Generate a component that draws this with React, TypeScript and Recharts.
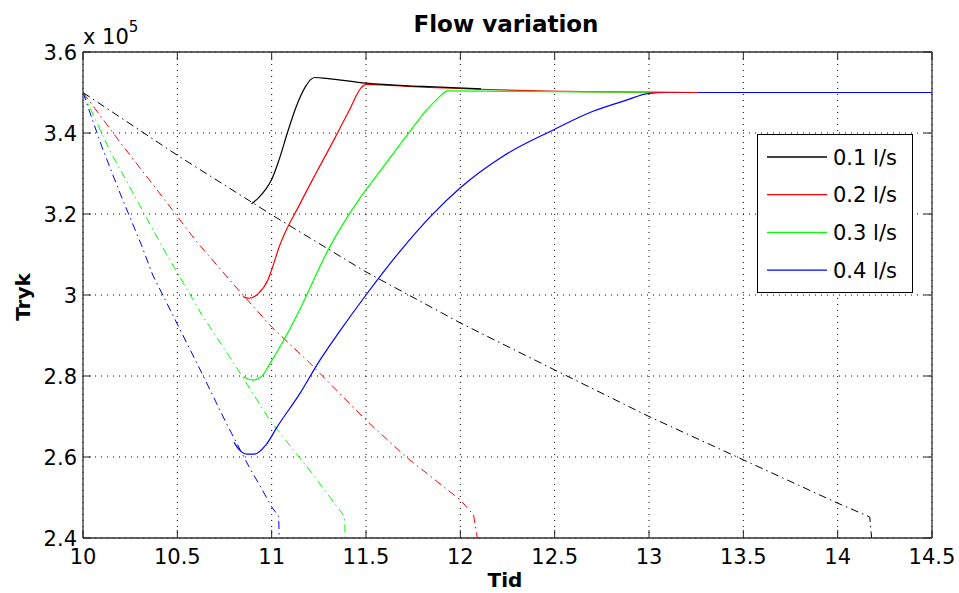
import React from 'react';
import { LineChart, Line, XAxis, YAxis, CartesianGrid } from 'recharts';

const W = 959;
const H = 593;
const FONT = '"DejaVu Sans", "Liberation Sans", sans-serif';
const TICK = 8;

const xTicks = [10, 10.5, 11, 11.5, 12, 12.5, 13, 13.5, 14, 14.5];
const yTicks = [2.4, 2.6, 2.8, 3.0, 3.2, 3.4, 3.6];

const seriesNames = ['0.1 l/s', '0.2 l/s', '0.3 l/s', '0.4 l/s'];
const seriesColors = ['#000000', '#ff0000', '#00ff00', '#0000ff'];

// Pressure decay (dash-dot) per flow, values in 1e5
const blackDashX = [10, 10.5, 11, 11.5, 12, 12.5, 13, 13.5, 14, 14.17, 14.18];
const blackDashY = [3.5, 3.345, 3.198, 3.057, 2.931, 2.815, 2.7, 2.593, 2.486, 2.452, 2.4];
const redDashX = [10, 10.2, 10.4, 10.6, 10.8, 11.0, 11.2, 11.5, 11.71, 12.0, 12.07, 12.09];
const redDashY = [3.5, 3.375, 3.255, 3.133, 3.025, 2.921, 2.833, 2.691, 2.601, 2.494, 2.457, 2.4];
const greenDashX = [10, 10.14, 10.28, 10.42, 10.63, 10.8, 10.99, 11.2, 11.386, 11.39];
const greenDashY = [3.5, 3.358, 3.239, 3.119, 2.951, 2.831, 2.691, 2.568, 2.453, 2.4];
const blueDashX = [10, 10.1, 10.2, 10.31, 10.37, 10.63, 10.76, 10.88, 10.95, 11.0, 11.037, 11.04];
const blueDashY = [3.5, 3.366, 3.247, 3.123, 3.049, 2.807, 2.683, 2.576, 2.519, 2.477, 2.453, 2.4];

// Recovery (solid) per flow
const blackSolidX = [10.893, 10.93, 10.97, 11.0, 11.04, 11.085, 11.13, 11.18, 11.21, 11.23, 11.29, 11.5, 11.8, 12.11];
const blackSolidY = [3.225, 3.24, 3.262, 3.285, 3.335, 3.403, 3.465, 3.515, 3.533, 3.537, 3.535, 3.523, 3.515, 3.509];
const redSolidX = [10.848, 10.88, 10.93, 10.98, 11.0, 11.04, 11.15, 11.24, 11.33, 11.41, 11.475, 11.5, 11.8, 12.1, 12.42, 13.0, 13.26];
const redSolidY = [2.996, 2.992, 3.004, 3.037, 3.062, 3.119, 3.225, 3.305, 3.383, 3.455, 3.512, 3.52, 3.513, 3.508, 3.504, 3.501, 3.5];
const greenSolidX = [10.85, 10.9, 10.945, 10.99, 11.06, 11.15, 11.3, 11.466, 11.554, 11.642, 11.73, 11.818, 11.88, 11.933, 12.5, 13.0];
const greenSolidY = [2.798, 2.79, 2.798, 2.83, 2.885, 2.965, 3.112, 3.238, 3.293, 3.348, 3.402, 3.455, 3.485, 3.504, 3.502, 3.501];
const blueSolidX = [10.8, 10.83, 10.87, 10.91, 10.97, 11.03, 11.15, 11.25, 11.36, 11.5, 11.68, 11.85, 12.0, 12.22, 12.49, 12.7, 12.88, 13.0, 13.1, 14.5];
const blueSolidY = [2.636, 2.617, 2.607, 2.607, 2.63, 2.675, 2.757, 2.835, 2.91, 3.0, 3.108, 3.198, 3.265, 3.341, 3.407, 3.453, 3.481, 3.498, 3.5, 3.5];

const zip = (xs: number[], ys: number[]) => xs.map((x, i) => ({ x, y: ys[i] }));

const dashSeries = [
  { data: zip(blackDashX, blackDashY), color: seriesColors[0] },
  { data: zip(redDashX, redDashY), color: seriesColors[1] },
  { data: zip(greenDashX, greenDashY), color: seriesColors[2] },
  { data: zip(blueDashX, blueDashY), color: seriesColors[3] },
];
// drawn order: blue, red, green, black
const solidSeries = [
  { data: zip(blueSolidX, blueSolidY), color: seriesColors[3], name: seriesNames[3] },
  { data: zip(redSolidX, redSolidY), color: seriesColors[1], name: seriesNames[1] },
  { data: zip(greenSolidX, greenSolidY), color: seriesColors[2], name: seriesNames[2] },
  { data: zip(blackSolidX, blackSolidY), color: seriesColors[0], name: seriesNames[0] },
];

const fmt = (v: number) => String(Math.round(v * 100) / 100);

const BottomTick = (props: any) => {
  const { x, y, payload } = props;
  return (
    <g>
      <line x1={x} y1={y} x2={x} y2={y - TICK} stroke="#222" strokeWidth={1} />
      <text x={x} y={y + 26} textAnchor="middle" fontSize={21} fontFamily={FONT} fill="#000">
        {fmt(payload.value)}
      </text>
    </g>
  );
};
const TopTick = (props: any) => {
  const { x, y } = props;
  return <line x1={x} y1={y} x2={x} y2={y + TICK} stroke="#222" strokeWidth={1} />;
};
const LeftTick = (props: any) => {
  const { x, y, payload } = props;
  return (
    <g>
      <line x1={x} y1={y} x2={x + TICK} y2={y} stroke="#222" strokeWidth={1} />
      <text x={x - 6} y={y} dy="0.36em" textAnchor="end" fontSize={21} fontFamily={FONT} fill="#000">
        {fmt(payload.value)}
      </text>
    </g>
  );
};
const RightTick = (props: any) => {
  const { x, y } = props;
  return <line x1={x} y1={y} x2={x - TICK} y2={y} stroke="#222" strokeWidth={1} />;
};

const LegendBox = () => (
  <div
    style={{
      position: 'absolute',
      left: 757,
      top: 134,
      width: 156,
      height: 159,
      boxSizing: 'border-box',
      border: '1px solid #000',
      background: '#fff',
    }}
  >
    <svg width={154} height={157} style={{ position: 'absolute', left: 0, top: 0 }}>
      {seriesNames.map((n, i) => (
        <g key={n}>
          <line x1={9} x2={69} y1={22 + i * 37.7} y2={22 + i * 37.7} stroke={seriesColors[i]} strokeWidth={1.3} />
          <text x={75} y={22 + i * 37.7} dy="0.36em" fontFamily={FONT} fontSize={21} fill="#000">
            {n}
          </text>
        </g>
      ))}
    </svg>
  </div>
);

const axisLine = { stroke: '#333', strokeWidth: 1.3 };

export default function App() {
  return (
    <div style={{ position: 'absolute', left: 0, top: 0, width: W, height: H, background: '#fff' }}>
      <LineChart width={W} height={H} margin={{ top: 0, right: 0, bottom: 0, left: 0 }}>
        <CartesianGrid stroke="#000" strokeDasharray="1 5" strokeWidth={1} />
        <XAxis
          dataKey="x"
          type="number"
          domain={[10, 14.5]}
          ticks={xTicks}
          allowDataOverflow
          height={55}
          tickSize={0}
          tickMargin={0}
          tickLine={false}
          tick={<BottomTick />}
          axisLine={axisLine}
          interval={0}
        />
        <XAxis
          xAxisId="top"
          orientation="top"
          dataKey="x"
          type="number"
          domain={[10, 14.5]}
          ticks={xTicks}
          allowDataOverflow
          height={52}
          tickSize={0}
          tickMargin={0}
          tickLine={false}
          tick={<TopTick />}
          axisLine={axisLine}
          interval={0}
        />
        <YAxis
          type="number"
          domain={[2.4, 3.6]}
          ticks={yTicks}
          allowDataOverflow
          width={83}
          tickSize={0}
          tickMargin={0}
          tickLine={false}
          tick={<LeftTick />}
          axisLine={axisLine}
          interval={0}
        />
        <YAxis
          yAxisId="right"
          orientation="right"
          type="number"
          domain={[2.4, 3.6]}
          ticks={yTicks}
          allowDataOverflow
          width={27}
          tickSize={0}
          tickMargin={0}
          tickLine={false}
          tick={<RightTick />}
          axisLine={axisLine}
          interval={0}
        />
        {dashSeries.map((s, i) => (
          <Line
            key={'d' + i}
            data={s.data}
            dataKey="y"
            type="linear"
            stroke={s.color}
            strokeWidth={1}
            strokeDasharray="8 4 1.5 4"
            dot={false}
            activeDot={false}
            legendType="none"
            isAnimationActive={false}
          />
        ))}
        {solidSeries.map((s, i) => (
          <Line
            key={'s' + i}
            name={s.name}
            data={s.data}
            dataKey="y"
            type="monotone"
            stroke={s.color}
            strokeWidth={1.2}
            dot={false}
            activeDot={false}
            isAnimationActive={false}
          />
        ))}
      </LineChart>
      <LegendBox />
      <svg
        width={W}
        height={H}
        style={{ position: 'absolute', left: 0, top: 0, pointerEvents: 'none' }}
      >
        <text x={506} y={32} textAnchor="middle" fontFamily={FONT} fontWeight="bold" fontSize={23} fill="#000">
          Flow variation
        </text>
        <text x={83} y={44} fontFamily={FONT} fontSize={21} fill="#000">
          x 10
          <tspan dy={-12} fontSize={15}>5</tspan>
        </text>
        <text x={505} y={587} textAnchor="middle" fontFamily={FONT} fontWeight="bold" fontSize={20} fill="#000">
          Tid
        </text>
        <text
          x={30}
          y={297}
          textAnchor="middle"
          fontFamily={FONT}
          fontWeight="bold"
          fontSize={20}
          fill="#000"
          transform="rotate(-90 30 297)"
        >
          Tryk
        </text>
      </svg>
    </div>
  );
}
